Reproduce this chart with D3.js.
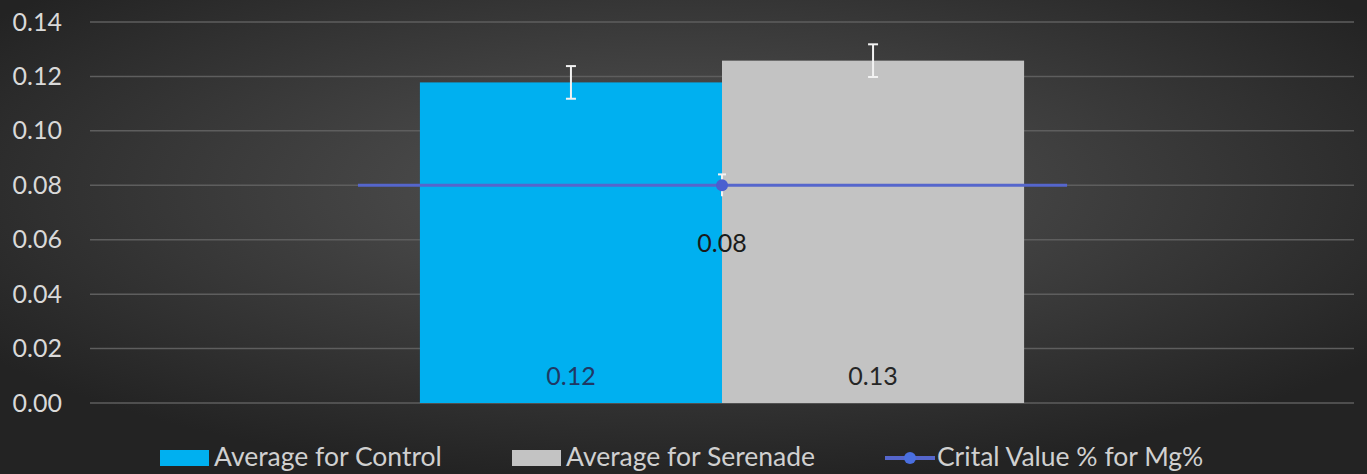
<!DOCTYPE html>
<html><head><meta charset="utf-8">
<script src="https://cdn.jsdelivr.net/npm/d3@7"></script>
<style>html,body{margin:0;padding:0;background:#2a2a2a;}svg{display:block;}</style>
</head><body>
<svg id="chart" width="1367" height="474"></svg>
<script>
const categories = ["Mg%"];
const seriesNames = ["Average for Control", "Average for Serenade"];
const seriesValues = [0.1178, 0.1258];
const seriesErrors = [0.006, 0.006];
const seriesLabels = ["0.12", "0.13"];
const lineName = "Crital Value % for Mg%";
const lineValue = 0.08;
const lineError = 0.004;
const lineLabel = "0.08";
const yTicks = [0, 0.02, 0.04, 0.06, 0.08, 0.10, 0.12, 0.14];

const W = 1367, H = 474;
const svg = d3.select("#chart");
const font = "Lato, 'Open Sans', sans-serif";

const defs = svg.append("defs");
const grad = defs.append("radialGradient").attr("id","bg")
  .attr("cx","50%").attr("cy","40%").attr("r","62%");
grad.append("stop").attr("offset","0%").attr("stop-color","#575757");
grad.append("stop").attr("offset","100%").attr("stop-color","#232323");
svg.append("rect").attr("width",W).attr("height",H).attr("fill","url(#bg)");

const plot = {left: 90, right: 1354, top: 22, bottom: 403};
const y = d3.scaleLinear().domain([0, 0.14]).range([plot.bottom, plot.top]);
const x = d3.scaleBand().domain(categories).range([plot.left, plot.right]);
const groupFrac = 0.478;
const cw = x.bandwidth() * groupFrac;
const xs = d3.scaleBand().domain(seriesNames)
  .range([x(categories[0]) + (x.bandwidth()-cw)/2, x(categories[0]) + (x.bandwidth()+cw)/2]);
const colors = ["#00b0f0", "#c3c3c3"];
const labelColors = ["#1f3864", "#262626"];

// gridlines
svg.append("g").selectAll("line").data(yTicks).join("line")
  .attr("x1", plot.left).attr("x2", plot.right)
  .attr("y1", d => y(d)).attr("y2", d => y(d))
  .attr("stroke", "#5e5e5e").attr("stroke-width", 1.5);

// y axis labels
const yAxis = d3.axisLeft(y).tickValues(yTicks).tickFormat(d3.format(".2f")).tickSize(0).tickPadding(0);
const ga = svg.append("g").attr("transform", "translate(62,0)").call(yAxis);
ga.select(".domain").remove();
ga.selectAll("text").attr("fill", "#d9d9d9").attr("font-family", font).attr("font-size", 25);

// bars
const data = seriesNames.map((n,i)=>({name:n, v:seriesValues[i], e:seriesErrors[i], lab:seriesLabels[i], c:colors[i], lc:labelColors[i]}));
svg.append("g").selectAll("rect").data(data).join("rect")
  .attr("x", d => xs(d.name)).attr("width", xs.bandwidth())
  .attr("y", d => y(d.v)).attr("height", d => y(0) - y(d.v))
  .attr("fill", d => d.c);

// error bars
const eb = svg.append("g").attr("stroke", "#f2f2f2").attr("stroke-width", 2);
data.forEach(d => {
  const cx = xs(d.name) + xs.bandwidth()/2;
  eb.append("line").attr("x1", cx).attr("x2", cx).attr("y1", y(d.v + d.e)).attr("y2", y(d.v - d.e));
  eb.append("line").attr("x1", cx-5).attr("x2", cx+5).attr("y1", y(d.v + d.e)).attr("y2", y(d.v + d.e));
  eb.append("line").attr("x1", cx-5).attr("x2", cx+5).attr("y1", y(d.v - d.e)).attr("y2", y(d.v - d.e));
});

// bar labels
svg.append("g").selectAll("text").data(data).join("text")
  .attr("x", d => xs(d.name) + xs.bandwidth()/2).attr("y", y(0) - 27).attr("dy", "0.35em")
  .attr("text-anchor", "middle").attr("fill", d => d.lc)
  .attr("font-family", font).attr("font-size", 25).text(d => d.lab);

// critical value line
const cx0 = x(categories[0]) + x.bandwidth()/2;
const lineLeftFrac = 0.288, lineRightFrac = 0.273;
svg.append("line").attr("x1", cx0 - x.bandwidth()*lineLeftFrac).attr("x2", cx0 + x.bandwidth()*lineRightFrac)
  .attr("y1", y(lineValue)).attr("y2", y(lineValue))
  .attr("stroke", "#5566cc").attr("stroke-width", 3);
svg.append("line").attr("x1", cx0).attr("x2", cx0)
  .attr("y1", y(lineValue + lineError)).attr("y2", y(lineValue - lineError))
  .attr("stroke", "#f2f2f2").attr("stroke-width", 2);
svg.append("line").attr("x1", cx0-4).attr("x2", cx0+4)
  .attr("y1", y(lineValue + lineError)).attr("y2", y(lineValue + lineError))
  .attr("stroke", "#f2f2f2").attr("stroke-width", 2);
svg.append("circle").attr("cx", cx0).attr("cy", y(lineValue)).attr("r", 6).attr("fill", "#4a5fd0");
svg.append("text").attr("x", cx0).attr("y", y(lineValue) + 58).attr("dy", "0.35em")
  .attr("text-anchor", "middle").attr("fill", "#1a1a1a")
  .attr("font-family", font).attr("font-size", 25).text(lineLabel);

// legend
const legY = 457;
const lg = svg.append("g").attr("font-family", font).attr("font-size", 26.5).attr("fill", "#d0d0d0");
const legItems = [
  {type:"rect", c:colors[0], sx:160, tx:214, t:seriesNames[0]},
  {type:"rect", c:colors[1], sx:512, tx:566, t:seriesNames[1]},
  {type:"line", c:"#5566cc", sx:885, tx:937, t:lineName}
];
legItems.forEach(it => {
  if (it.type === "rect") {
    lg.append("rect").attr("x", it.sx).attr("y", legY-7).attr("width", 49).attr("height", 16).attr("fill", it.c);
  } else {
    lg.append("line").attr("x1", it.sx).attr("x2", it.sx+50).attr("y1", legY+1).attr("y2", legY+1).attr("stroke", it.c).attr("stroke-width", 4);
    lg.append("circle").attr("cx", it.sx+25).attr("cy", legY+1).attr("r", 6).attr("fill", "#4a6fe0");
  }
  lg.append("text").attr("x", it.tx).attr("y", legY).attr("dy", "0.35em").text(it.t);
});
</script>
</body></html>
